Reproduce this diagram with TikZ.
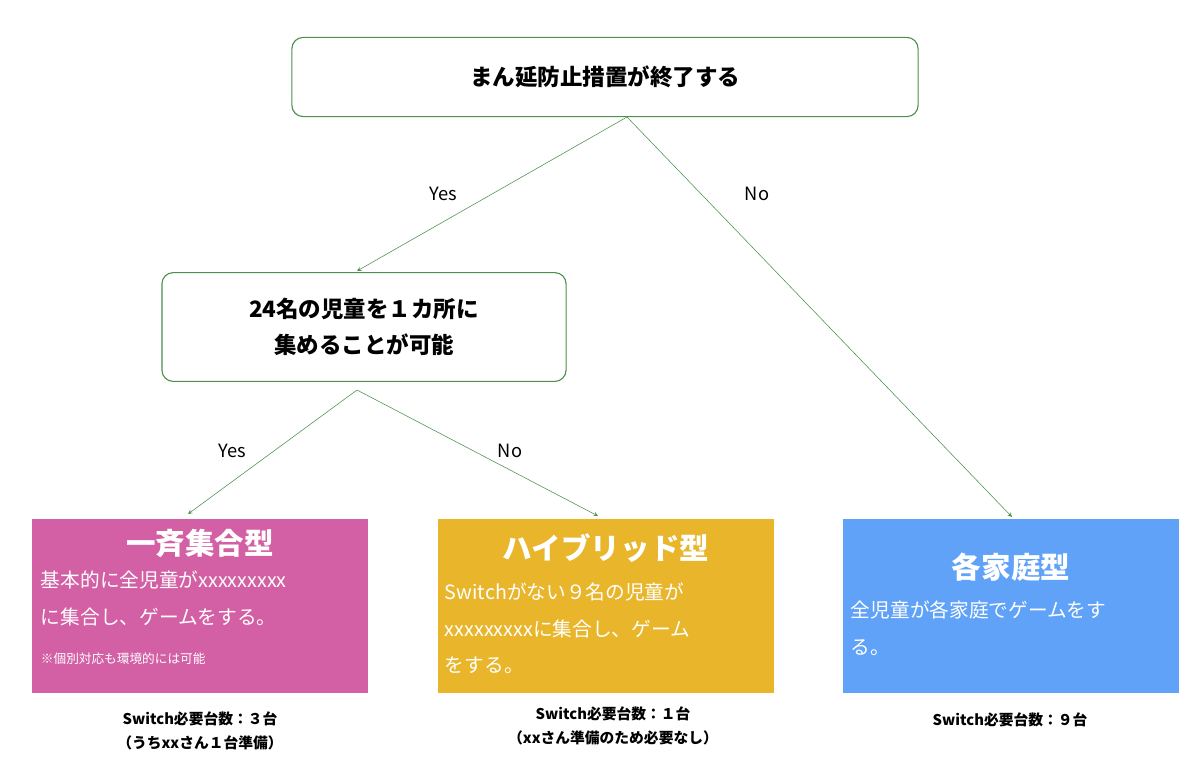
\documentclass[tikz,border=0pt]{standalone}
\usepackage{fontspec}
\setmainfont{Noto Sans CJK JP}
\usetikzlibrary{positioning}
\definecolor{boxgreen}{HTML}{4E8F4E}
\definecolor{pinkbox}{HTML}{D35FA5}
\definecolor{yellowbox}{HTML}{E8B52B}
\definecolor{bluebox}{HTML}{5FA2F7}
\tikzset{
  question/.style={draw=boxgreen, thick, rounded corners=8pt, fill=white, align=center, font=\bfseries\fontsize{16}{26}\selectfont},
  answer/.style={inner sep=0pt, minimum width=8.4cm, minimum height=4.35cm},
  branch/.style={draw=boxgreen, ->, >=stealth},
  caption/.style={font=\bfseries\fontsize{10.5}{17}\selectfont, align=center},
  ttl/.style={text=white, font=\bfseries\fontsize{21}{24}\selectfont},
  body/.style={text=white, align=left, anchor=north west, font=\fontsize{14}{26}\selectfont}
}
\begin{document}
\begin{tikzpicture}[x=0.025cm, y=-0.025cm]
\useasboundingbox (0,0) rectangle (1200,768);

\node[question, minimum width=15.65cm, minimum height=1.98cm] (end) at (605,77) {まん延防止措置が終了する};
\node[question, minimum width=10.1cm, minimum height=2.72cm] (gather) at (364,327) {24名の児童を１カ所に\\集めることが可能};

\node[answer, fill=pinkbox] (all) at (200,606) {};
\node[answer, fill=yellowbox] (hybrid) at (606,606) {};
\node[answer, fill=bluebox] (home) at (1011,606) {};

\node[ttl] at (200,543) {一斉集合型};
\node[body] at (36,566) {基本的に全児童がxxxxxxxxx\\に集合し、ゲームをする。};
\node[text=white, anchor=north west, font=\fontsize{9}{12}\selectfont] at (36,648) {※個別対応も環境的には可能};

\node[ttl] at (606,548) {ハイブリッド型};
\node[body] at (440,578) {Switchがない９名の児童が\\xxxxxxxxxに集合し、ゲーム\\をする。};

\node[ttl] at (1011,567) {各家庭型};
\node[body] at (846,596) {全児童が各家庭でゲームをす\\る。};

\node[caption] (capall) at (200,731) {Switch必要台数：３台\\（うちxxさん１台準備）};
\node[caption] (caphybrid) at (613,726) {Switch必要台数：１台\\（xxさん準備のため必要なし）};
\node[caption] (caphome) at (1010,720) {Switch必要台数：９台};

\coordinate (endout) at (627,117);
\coordinate (gatherin) at (357,271);
\coordinate (homein) at (1012,517);
\coordinate (gatherout) at (357,390);
\coordinate (allin) at (188,514);
\coordinate (hybridin) at (598,516);

\draw[branch] (endout) -- (gatherin);
\draw[branch] (endout) -- (homein);
\draw[branch] (gatherout) -- (allin);
\draw[branch] (gatherout) -- (hybridin);

\node[font=\fontsize{13}{16}\selectfont] at (443,194) {Yes};
\node[font=\fontsize{13}{16}\selectfont] at (757,194) {No};
\node[font=\fontsize{13}{16}\selectfont] at (232,451) {Yes};
\node[font=\fontsize{13}{16}\selectfont] at (510,451) {No};
\end{tikzpicture}
\end{document}
